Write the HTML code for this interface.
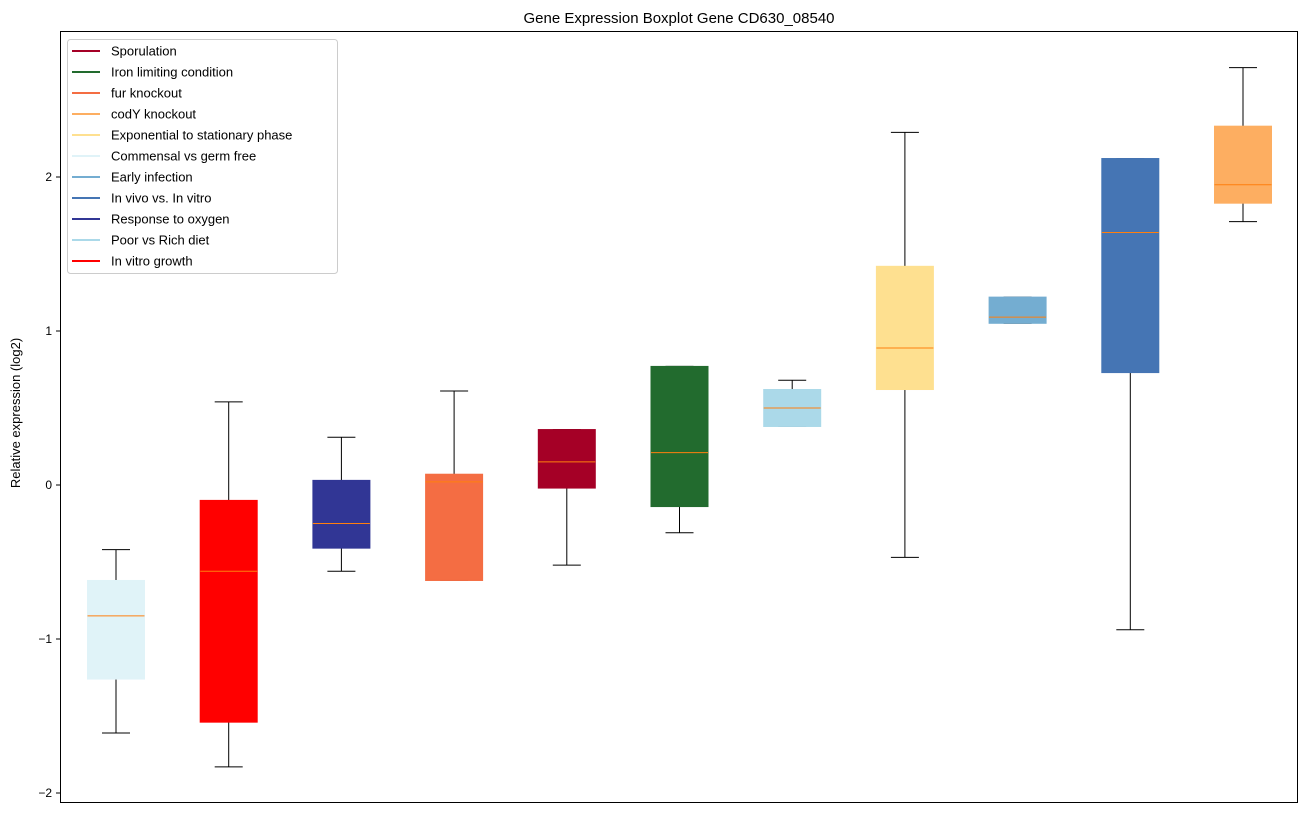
<!DOCTYPE html>
<html><head><meta charset="utf-8"><style>
body{margin:0;background:#fff;font-family:"Liberation Sans","DejaVu Sans",sans-serif;}
</style></head><body>
<svg width="1309" height="812" xmlns="http://www.w3.org/2000/svg" id="chart" font-family="Liberation Sans, DejaVu Sans, sans-serif">
<text x="679" y="23" text-anchor="middle" font-size="15">Gene Expression Boxplot Gene CD630_08540</text>
<text transform="translate(20,413) rotate(-90)" text-anchor="middle" font-size="13">Relative expression (log2)</text>
<g id="marks"></g>
<rect x="60.5" y="31.5" width="1237" height="771" fill="none" stroke="#000" stroke-width="1"/>
<g id="yticks"></g>
<g id="legend"></g>
</svg>
<script>
const categories=["Commensal vs germ free","In vitro growth","Response to oxygen","fur knockout","Sporulation","Iron limiting condition","Poor vs Rich diet","Exponential to stationary phase","Early infection","In vivo vs. In vitro","codY knockout"];
const colors=["#e0f3f8","#ff0000","#313695","#f46d43","#a50026","#226b2e","#abd9e9","#fee090","#74add1","#4575b4","#fdae61"];
const whiskerHigh=[-0.42,0.54,0.31,0.61,0.36,0.77,0.68,2.29,1.22,2.12,2.71];
const q3=[-0.62,-0.10,0.03,0.07,0.36,0.77,0.62,1.42,1.22,2.12,2.33];
const medians=[-0.85,-0.56,-0.25,0.02,0.15,0.21,0.50,0.89,1.09,1.64,1.95];
const q1=[-1.26,-1.54,-0.41,-0.62,-0.02,-0.14,0.38,0.62,1.05,0.73,1.83];
const whiskerLow=[-1.61,-1.83,-0.56,-0.62,-0.52,-0.31,0.38,-0.47,1.05,-0.94,1.71];
const yTicks=[-2,-1,0,1,2];
const legendLabels=["Sporulation","Iron limiting condition","fur knockout","codY knockout","Exponential to stationary phase","Commensal vs germ free","Early infection","In vivo vs. In vitro","Response to oxygen","Poor vs Rich diet","In vitro growth"];
const legendColors=["#a50026","#226b2e","#f46d43","#fdae61","#fee090","#e0f3f8","#74add1","#4575b4","#313695","#abd9e9","#ff0000"];
const NS="http://www.w3.org/2000/svg";
function y(v){return 485-154*v;}
function x(i){return 116+i*112.7;}
function mk(t,a,p){const e=document.createElementNS(NS,t);for(const k in a)e.setAttribute(k,a[k]);p.appendChild(e);return e;}
const marks=document.getElementById('marks');
categories.forEach((c,i)=>{
 const g=mk('g',{},marks);
 
 
 const cx=x(i),w=57;
 mk('line',{x1:cx,x2:cx,y1:y(whiskerHigh[i]),y2:y(q3[i]),stroke:'#000'},g);
 mk('line',{x1:cx,x2:cx,y1:y(q1[i]),y2:y(whiskerLow[i]),stroke:'#000'},g);
 mk('line',{x1:cx-14,x2:cx+14,y1:y(whiskerHigh[i]),y2:y(whiskerHigh[i]),stroke:'#000'},g);
 mk('line',{x1:cx-14,x2:cx+14,y1:y(whiskerLow[i]),y2:y(whiskerLow[i]),stroke:'#000'},g);
 mk('rect',{x:cx-w/2,y:y(q3[i]),width:w,height:Math.max(1,y(q1[i])-y(q3[i])),fill:colors[i],stroke:colors[i]},g);
 mk('line',{x1:cx-w/2,x2:cx+w/2,y1:y(medians[i]),y2:y(medians[i]),stroke:'#ff7f0e'},g);
});
const yt=document.getElementById('yticks');
yTicks.forEach(v=>{
 const g=mk('g',{},yt);
 
 
 mk('line',{x1:56,x2:60,y1:y(v),y2:y(v),stroke:'#000'},g);
 const t=mk('text',{x:52,y:y(v)+4,'text-anchor':'end','font-size':12},g);
 t.textContent=v<0?'\u2212'+(-v):String(v);
});
const lg=document.getElementById('legend');
const box=mk('rect',{x:67.5,y:39.5,width:270,height:234,fill:'#fff',stroke:'#ccc',rx:3},lg);


legendLabels.forEach((l,i)=>{
 const g=mk('g',{},lg);
 
 
 const yy=51+i*21;
 mk('line',{x1:72,x2:100,y1:yy,y2:yy,stroke:legendColors[i],'stroke-width':2},g);
 const t=mk('text',{x:111,y:yy+4.5,'font-size':13},g);
 t.textContent=l;
});
</script>
</body></html>
